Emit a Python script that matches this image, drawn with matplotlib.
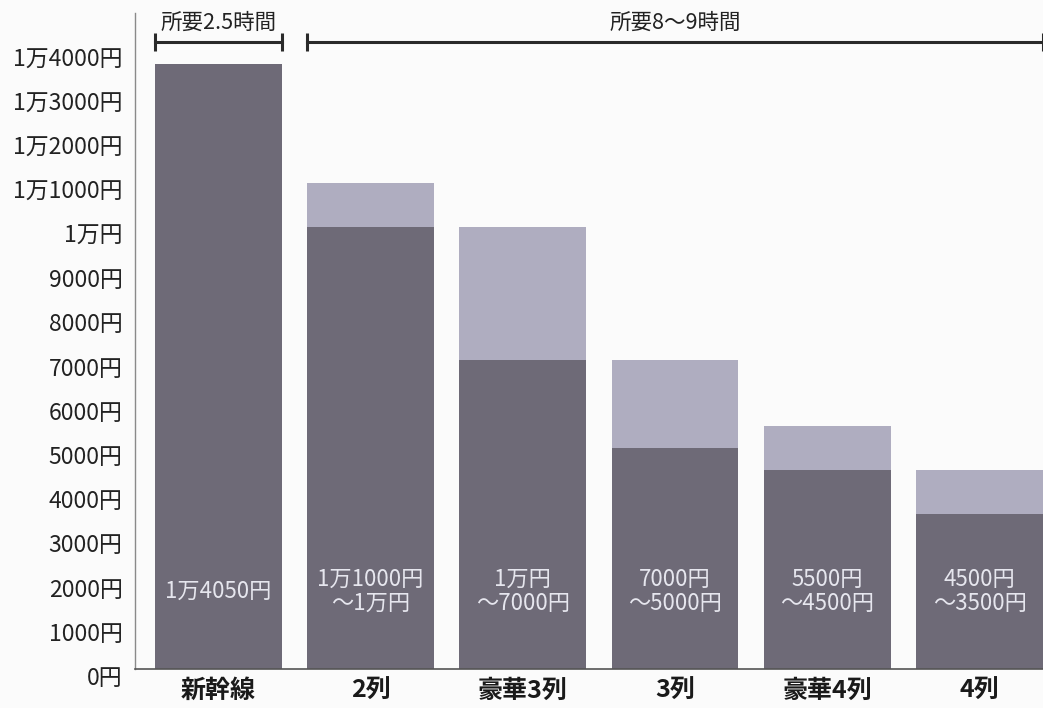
import matplotlib
matplotlib.use('Agg')
import matplotlib.pyplot as plt
import matplotlib.transforms as mtransforms

plt.rcParams['font.family'] = ['Noto Sans CJK JP', 'DejaVu Sans']

# data (yen)
categories = ['新幹線', '2列', '豪華3列', '3列', '豪華4列', '4列']
low_prices = [13700, 10000, 7000, 5000, 4500, 3500]
high_prices = [13700, 11000, 10000, 7000, 5500, 4500]
bar_labels = ['1万4050円', '1万1000円\n〜1万円', '1万円\n〜7000円',
              '7000円\n〜5000円', '5500円\n〜4500円', '4500円\n〜3500円']
ytick_values = list(range(0, 15000, 1000))
ytick_labels = ['0円', '1000円', '2000円', '3000円', '4000円', '5000円', '6000円',
                '7000円', '8000円', '9000円', '1万円', '1万1000円', '1万2000円',
                '1万3000円', '1万4000円']
durations = ['所要2.5時間', '所要8〜9時間']

dark = '#6e6a77'
light = '#afadc0'
bg = '#fbfbfb'

fig = plt.figure(figsize=(10.43, 7.08), dpi=100, facecolor=bg)
ax = fig.add_axes([135 / 1043, 39 / 708, 1 - 135 / 1043, 669 / 708])
ax.set_facecolor(bg)

x = list(range(len(categories)))
width = 0.833
upper = [h - l for h, l in zip(high_prices, low_prices)]
ax.bar(x, low_prices, width=width, color=dark, zorder=2)
ax.bar(x, upper, bottom=low_prices, width=width, color=light, zorder=2)

for xi, lab in zip(x, bar_labels):
    ax.text(xi, 1760, lab, ha='center', va='center', color='#e6e6ee',
            fontsize=16, linespacing=1.05, zorder=3)

ax.set_xlim(-0.548, 5.417)
ax.set_ylim(0, 15140)

ax.set_xticks(x)
ax.set_xticklabels(categories, fontsize=18, fontweight='bold', color='#1a1a1a')
ax.set_yticks(ytick_values)
ax.set_yticklabels(ytick_labels, fontsize=16.5, color='#222222')
ax.tick_params(axis='both', length=0)
ax.tick_params(axis='y', pad=9)
ax.tick_params(axis='x', pad=7)
# labels sit slightly lower than the gridline values
offset = mtransforms.ScaledTranslation(0, -7 / 100, fig.dpi_scale_trans)
for lbl in ax.get_yticklabels():
    lbl.set_transform(lbl.get_transform() + offset)

for side in ['top', 'right']:
    ax.spines[side].set_visible(False)
ax.spines['left'].set_color('#8a8a8a')
ax.spines['left'].set_linewidth(1.0)
ax.spines['left'].set_bounds(0, 14850)
ax.spines['bottom'].set_color('#555555')
ax.spines['bottom'].set_linewidth(1.2)

# duration brackets
y_br = 14180
spans = [(0 - width / 2, 0 + width / 2), (1 - width / 2, 5 + width / 2)]
for (x0, x1), txt in zip(spans, durations):
    ax.plot([x0, x1], [y_br, y_br], color='#2a2a2a', lw=2.2, clip_on=False, zorder=4)
    ax.plot([x0, x1], [y_br, y_br], color='#2a2a2a', ls='none', marker='|',
            markersize=13, mew=2.2, clip_on=False, zorder=4)
    ax.text((x0 + x1) / 2, y_br + 200, txt, ha='center', va='bottom',
            fontsize=15.5, color='#222222', clip_on=False)

fig.savefig('out.png', dpi=100, facecolor=bg)
